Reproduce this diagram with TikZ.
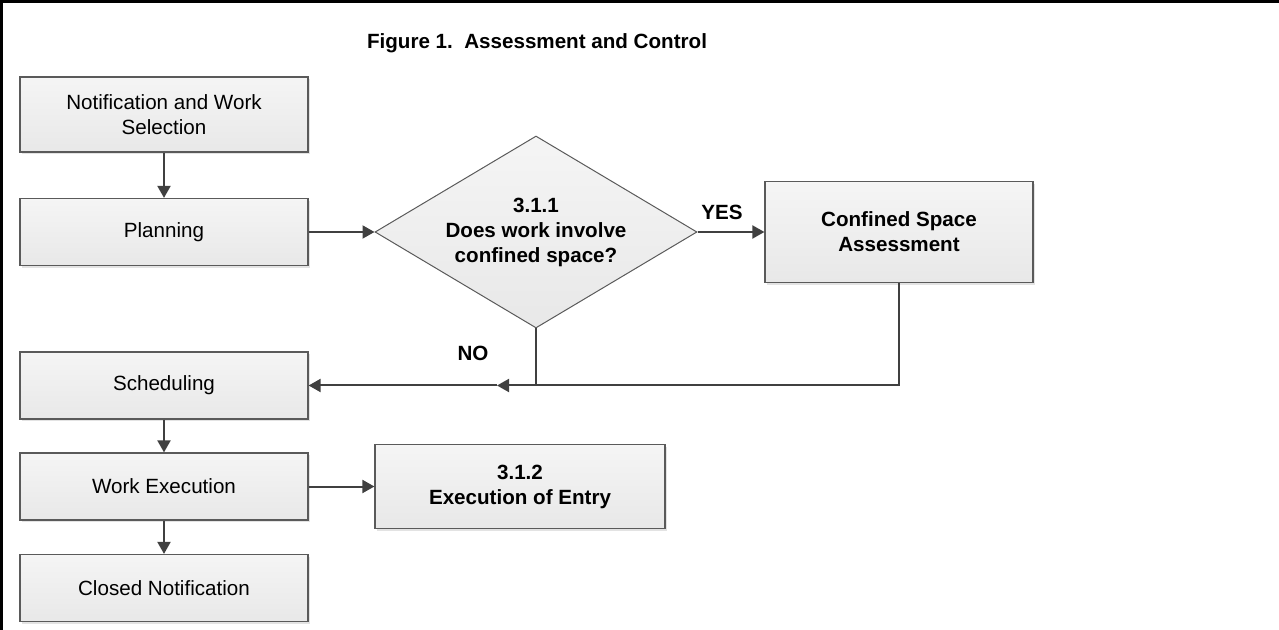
\documentclass[tikz,border=0pt]{standalone}
\usepackage{fontspec}
\setmainfont{Liberation Sans}
\usetikzlibrary{shapes.geometric,arrows.meta,shadows}

\definecolor{linegray}{HTML}{404040}
\definecolor{edgegray}{HTML}{5A5A5A}
\newcommand{\boxfont}{\fontsize{10.3}{12.5}\selectfont}

\tikzset{
  stepbox/.style={draw=edgegray, line width=0.6pt, top color=black!4, bottom color=black!9,
    drop shadow={shadow xshift=1.2pt, shadow yshift=-1.2pt, fill=black!11, opacity=1},
    align=center, font=\boxfont, inner sep=0pt},
  leftbox/.style={stepbox, minimum width=144pt, minimum height=33.5pt},
  boldbox/.style={stepbox, font=\boxfont\bfseries},
  decision/.style={diamond, draw=edgegray, line width=0.5pt, top color=black!4, bottom color=black!9,
    align=center, font=\boxfont\bfseries, inner sep=0pt, aspect=1.68,
    minimum width=161pt, minimum height=96pt},
  flow/.style={draw=linegray, line width=1pt, -{Triangle[length=6pt,width=6.5pt]}},
  plain/.style={draw=linegray, line width=1pt},
  tag/.style={font=\boxfont\bfseries},
}

\begin{document}
\begin{tikzpicture}[x=0.5pt, y=-0.5pt]
    \useasboundingbox (0,0) rectangle (1279,630);

    % Frame (top and left edge only)
    \draw[line width=1.5pt] (1.5,630) -- (1.5,1.5) -- (1279,1.5);

    % Title
    \node[tag] (title) at (537,43) {Figure 1.\ \ Assessment and Control};

    % Left column of process steps
    \node[leftbox, minimum height=37.5pt] (notif) at (164,114.5) {Notification and Work\\Selection};
    \node[leftbox] (plan)   at (164,232) {Planning};
    \node[leftbox] (sched)  at (164,385.5) {Scheduling};
    \node[leftbox] (work)   at (164,486.5) {Work Execution};
    \node[leftbox] (closed) at (164,588)   {Closed Notification};

    % Decision and branches
    \node[decision] (query) at (536,232) {3.1.1\\Does work involve\\confined space?};
    \node[boldbox, minimum width=134pt, minimum height=50.5pt] (csa) at (899,232) {Confined Space\\Assessment};
    \node[boldbox, minimum width=145pt, minimum height=42pt] (entry) at (520,486.5) {3.1.2\\Execution of Entry};

    % Vertical arrows down the column
    \foreach \a/\b in {notif/plan, sched/work, work/closed}
      \draw[flow] (\a) -- (\b);

    % Horizontal arrows
    \draw[flow] (plan.east) -- (query.west);
    \draw[flow] (query.east) -- (csa.west);
    \draw[flow] (work.east) -- (entry.west);

    % Return path to scheduling
    \coordinate (join) at (query.south |- sched.east);
    \coordinate (mid) at (497,385.5);
    \draw[plain] (query.south) -- (join);
    \draw[plain] (csa.south) |- (join);
    \draw[flow] (join) -- (mid);
    \draw[flow] (mid) -- (sched.east);

    % Branch labels
    \node[tag] (yes) at (722,212) {YES};
    \node[tag] (no)  at (473,353) {NO};
\end{tikzpicture}
\end{document}
